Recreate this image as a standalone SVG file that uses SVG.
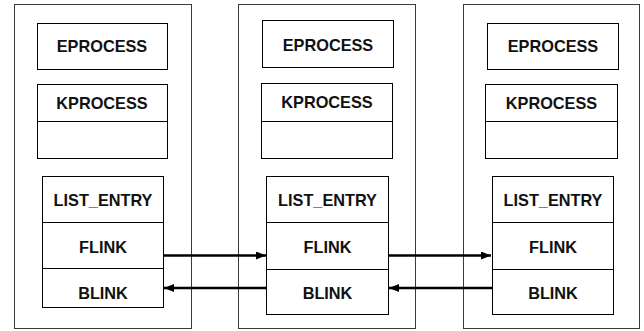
<svg xmlns="http://www.w3.org/2000/svg" width="644" height="331" viewBox="0 0 644 331">
  <style>
    .outer { fill: #ffffff; stroke: #3a3a3a; stroke-width: 1; }
    .box { fill: #ffffff; stroke: #000000; stroke-width: 1; }
    .sep { stroke: #000000; stroke-width: 1; }
    .lbl { font-family: "Liberation Sans", Arial, sans-serif; font-weight: bold; font-size: 16.3px; text-anchor: middle; fill: #111111; }
    .link { stroke: #000000; stroke-width: 2.5; fill: none; }
  </style>
  <defs>
    <marker id="head" viewBox="0 0 10 8" refX="10" refY="4" markerWidth="10" markerHeight="8" markerUnits="userSpaceOnUse" orient="auto">
      <path d="M0,0 L10,4 L0,8 Z" fill="#000000"/>
    </marker>
  </defs>
  <rect width="644" height="331" fill="#ffffff"/>

  <!-- process 1 -->
  <g id="process1">
    <rect class="outer" x="14.5" y="4.5" width="177" height="324"/>
    <g id="eprocess1">
      <rect class="box" x="37.5" y="23.5" width="130" height="46"/>
      <text class="lbl" x="102" y="51.5">EPROCESS</text>
    </g>
    <g id="kprocess1">
      <rect class="box" x="37.5" y="84.5" width="130" height="74"/>
      <line class="sep" x1="37.5" y1="121.5" x2="167.5" y2="121.5"/>
      <text class="lbl" x="102" y="108.5">KPROCESS</text>
    </g>
    <g id="listentry1">
      <rect class="box" x="42.5" y="176.5" width="121" height="131"/>
      <line class="sep" x1="42.5" y1="222.5" x2="163.5" y2="222.5"/>
      <line class="sep" x1="42.5" y1="268.5" x2="163.5" y2="268.5"/>
      <text class="lbl" x="103" y="205.5">LIST_ENTRY</text>
      <text class="lbl" x="103" y="252.5">FLINK</text>
      <text class="lbl" x="103" y="298.5">BLINK</text>
    </g>
  </g>

  <!-- process 2 -->
  <g id="process2">
    <rect class="outer" x="238.5" y="4.5" width="177" height="324"/>
    <g id="eprocess2">
      <rect class="box" x="262.5" y="20.5" width="131" height="47"/>
      <text class="lbl" x="328" y="50.5">EPROCESS</text>
    </g>
    <g id="kprocess2">
      <rect class="box" x="261.5" y="83.5" width="131" height="75"/>
      <line class="sep" x1="261.5" y1="121.5" x2="392.5" y2="121.5"/>
      <text class="lbl" x="327" y="107.5">KPROCESS</text>
    </g>
    <g id="listentry2">
      <rect class="box" x="266.5" y="176.5" width="122" height="138"/>
      <line class="sep" x1="266.5" y1="222.5" x2="388.5" y2="222.5"/>
      <line class="sep" x1="266.5" y1="269.5" x2="388.5" y2="269.5"/>
      <text class="lbl" x="327.5" y="205.5">LIST_ENTRY</text>
      <text class="lbl" x="327.5" y="252.5">FLINK</text>
      <text class="lbl" x="327.5" y="298.5">BLINK</text>
    </g>
  </g>

  <!-- process 3 -->
  <g id="process3">
    <rect class="outer" x="463.5" y="4.5" width="176" height="324"/>
    <g id="eprocess3">
      <rect class="box" x="487.5" y="23.5" width="131" height="46"/>
      <text class="lbl" x="553" y="51.5">EPROCESS</text>
    </g>
    <g id="kprocess3">
      <rect class="box" x="485.5" y="84.5" width="132" height="74"/>
      <line class="sep" x1="485.5" y1="121.5" x2="617.5" y2="121.5"/>
      <text class="lbl" x="551.5" y="108.5">KPROCESS</text>
    </g>
    <g id="listentry3">
      <rect class="box" x="492.5" y="176.5" width="121" height="138"/>
      <line class="sep" x1="492.5" y1="222.5" x2="613.5" y2="222.5"/>
      <line class="sep" x1="492.5" y1="269.5" x2="613.5" y2="269.5"/>
      <text class="lbl" x="553" y="205.5">LIST_ENTRY</text>
      <text class="lbl" x="553" y="252.5">FLINK</text>
      <text class="lbl" x="553" y="298.5">BLINK</text>
    </g>
  </g>

  <!-- forward and backward links -->
  <g id="connectors">
    <line class="link" x1="164" y1="255.5" x2="266" y2="255.5" marker-end="url(#head)"/>
    <line class="link" x1="266" y1="288" x2="164" y2="288" marker-end="url(#head)"/>
    <line class="link" x1="389" y1="255.5" x2="491" y2="255.5" marker-end="url(#head)"/>
    <line class="link" x1="492" y1="288" x2="389" y2="288" marker-end="url(#head)"/>
  </g>
</svg>
